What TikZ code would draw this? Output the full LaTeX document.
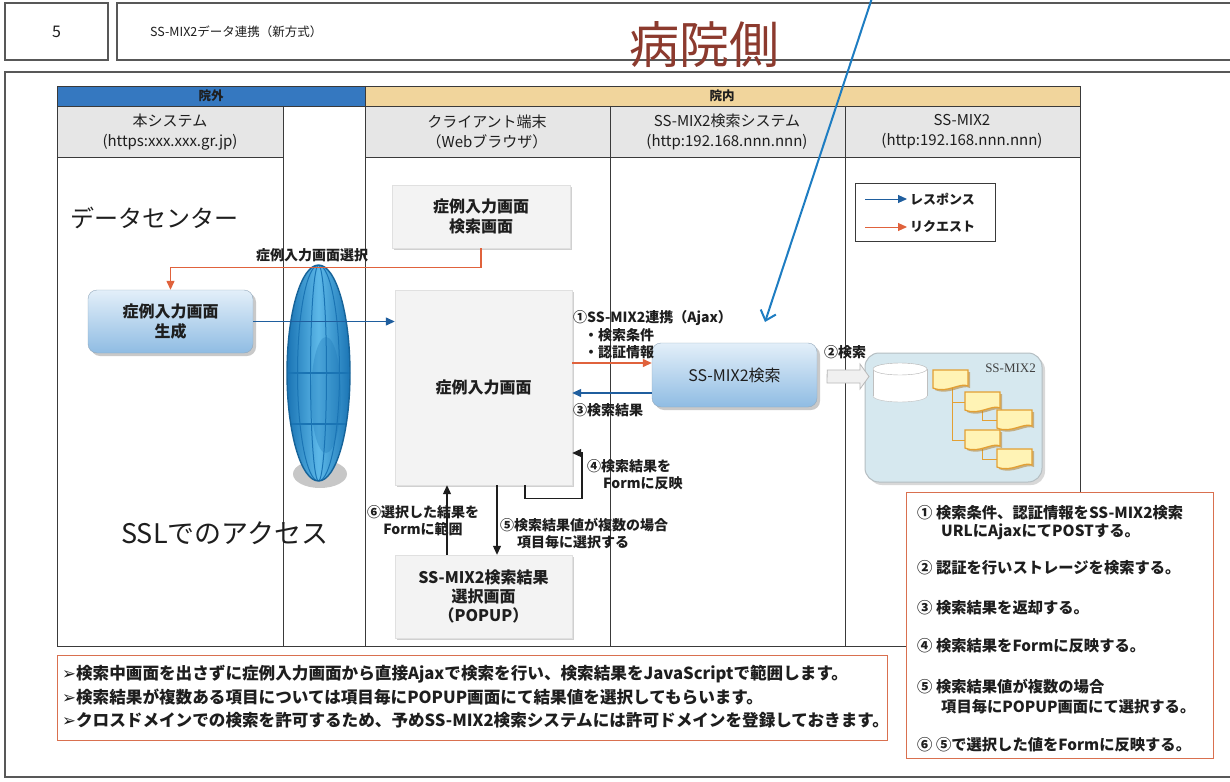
\documentclass[tikz,border=0pt]{standalone}
\usepackage{fontspec}
\setmainfont{Noto Sans CJK JP}
\newfontfamily\symfont{DejaVu Sans}
\newfontfamily\seriffont{Liberation Serif}
\usetikzlibrary{arrows.meta,shadows,calc}

\definecolor{ink}{HTML}{1E1E1E}
\definecolor{gridline}{HTML}{3A3A3A}
\definecolor{outerblue}{HTML}{3578C0}
\definecolor{innertan}{HTML}{F1D59C}
\definecolor{headgray}{HTML}{E6E6E6}
\definecolor{reqred}{HTML}{E0623C}
\definecolor{resblue}{HTML}{1F5E9E}
\definecolor{notered}{HTML}{D9704F}
\definecolor{sidebrown}{HTML}{8C3A2E}
\definecolor{pointer}{HTML}{1E7DC2}
\definecolor{paper}{HTML}{F3F3F3}
\definecolor{boxtop}{HTML}{E3EFF9}
\definecolor{boxbot}{HTML}{8FBCE3}
\definecolor{globedark}{HTML}{1A74B4}
\definecolor{globelight}{HTML}{5DB8E8}
\definecolor{storfill}{HTML}{D6E8EF}
\definecolor{folderfill}{HTML}{FFF3B5}
\definecolor{folderline}{HTML}{E3A033}

\tikzset{
  every node/.style={text=ink, inner sep=0pt},
  frame/.style={draw=gridline!85, line width=1.2pt},
  grid/.style={draw=gridline, line width=0.9pt},
  headtext/.style={font=\fontsize{15}{20}\selectfont, align=center},
  lbl/.style={font=\fontsize{14}{17}\selectfont\bfseries},
  boxtext/.style={font=\fontsize{16}{20}\selectfont\bfseries, align=center},
  notetext/.style={font=\fontsize{15.3}{18}\selectfont\bfseries, anchor=west},
  sumtext/.style={font=\fontsize{16.6}{20}\selectfont\bfseries, anchor=west},
  paperbox/.style={fill=paper, draw=black!12,
    drop shadow={shadow xshift=2pt, shadow yshift=-2pt, fill=black!30, opacity=0.6}},
  bluebox/.style={rounded corners=9pt, top color=boxtop, bottom color=boxbot,
    draw=boxbot!70!black!70,
    drop shadow={shadow xshift=3pt, shadow yshift=-3pt, fill=black!35, opacity=0.6}},
  req/.style={draw=reqred, line width=1.3pt, -{Triangle[length=9pt,width=8pt]}},
  res/.style={draw=resblue, line width=1.3pt, -{Triangle[length=9pt,width=8pt]}},
  blk/.style={draw=ink, line width=1.1pt, -{Triangle[length=9pt,width=8pt]}},
  notebox/.style={draw=notered, line width=1pt, fill=white},
  folder/.style={fill=folderfill, draw=folderline, line width=1.3pt},
}

\begin{document}
\begin{tikzpicture}[x=1pt,y=-1pt]
\useasboundingbox (0,0) rectangle (1230,781);
\fill[white] (0,0) rectangle (1230,781);

% ---- title strip ----
\node[frame, draw, minimum width=103pt, minimum height=57pt] (num) at (56.5,31.5) {};
\node[font=\fontsize{16}{18}\selectfont] at (num) {5};
\draw[frame] (117,3) rectangle (1245,60);
\node[anchor=west, font=\fontsize{12.5}{14}\selectfont] (title) at (150,32) {SS-MIX2データ連携（新方式）};
\node[font=\fontsize{50}{54}\selectfont, text=sidebrown] (side) at (704,45) {病院側};

% ---- outer frame ----
\draw[frame] (5,72) rectangle (1245,777);

% ---- swimlane table ----
\fill[outerblue] (57,86) rectangle (365,106);
\fill[innertan] (365,86) rectangle (1080,106);
\fill[headgray] (57,106) rectangle (283,157);
\fill[headgray] (365,106) rectangle (1080,157);
\draw[grid] (57,86) rectangle (1080,646);
\draw[grid] (57,106) -- (1080,106);
\draw[grid] (57,157) -- (283,157);
\draw[grid] (365,157) -- (1080,157);
\draw[grid] (283,106) -- (283,646);
\draw[grid] (365,86) -- (365,646);
\draw[grid] (610,106) -- (610,646);
\draw[grid] (845,106) -- (845,646);

\node[font=\fontsize{12.5}{14}\selectfont\bfseries] (outlbl) at (211,96) {院外};
\node[font=\fontsize{12.5}{14}\selectfont\bfseries] (inlbl) at (722,96) {院内};

\node[headtext] (h1) at (170,132) {本システム\\(https:xxx.xxx.gr.jp)};
\node[headtext] (h3) at (487,132) {クライアント端末\\（Webブラウザ）};
\node[headtext] (h4) at (727,132) {SS-MIX2検索システム\\(http:192.168.nnn.nnn)};
\node[headtext] (h5) at (962,132) {SS-MIX2\\(http:192.168.nnn.nnn)};

\node[anchor=west, font=\fontsize{24}{28}\selectfont] (dc) at (70,218) {データセンター};
\node[anchor=west, font=\fontsize{27}{30}\selectfont] (ssl) at (121,533) {SSLでのアクセス};

% ---- SSL globe ----
\fill[black!22] (320,474) ellipse [x radius=27pt, y radius=14pt];
\shade[left color=globedark, right color=globedark, middle color=globelight]
  (318.5,373) ellipse [x radius=31.5pt, y radius=108pt];
\begin{scope}
  \clip (318.5,373) ellipse [x radius=31.5pt, y radius=108pt];
  \fill[globedark, opacity=0.3] (326,395) ellipse [x radius=15pt, y radius=58pt];
  \draw[globedark, line width=1pt] (318.5,373) ellipse [x radius=8pt, y radius=108pt];
  \draw[globedark, line width=1pt] (318.5,373) ellipse [x radius=21pt, y radius=108pt];
  \draw[globedark, line width=2.4pt] (280,373) -- (356,373);
  \draw[globedark, line width=2.4pt] (280,424) -- (356,424);
\end{scope}
\draw[globedark!85!black, line width=1.4pt] (318.5,373) ellipse [x radius=31.5pt, y radius=108pt];

% ---- boxes ----
\node[paperbox, minimum width=178pt, minimum height=63pt] (scr) at (481,216.5) {};
\node[boxtext] at (scr) {症例入力画面\\検索画面};
\node[paperbox, minimum width=177pt, minimum height=195pt] (main) at (483.5,387.5) {};
\node[boxtext] at (main) {症例入力画面};
\node[paperbox, minimum width=177pt, minimum height=83pt] (popup) at (483.5,596.5) {};
\node[boxtext, font=\fontsize{16}{19}\selectfont\bfseries] at (popup) {SS-MIX2検索結果\\選択画面\\（POPUP）};
\node[bluebox, minimum width=165pt, minimum height=63pt] (gen) at (170.5,321.5) {};
\node[boxtext] at (gen) {症例入力画面\\生成};
\node[bluebox, minimum width=165pt, minimum height=64pt] (ssq) at (734.5,375) {};
\node[boxtext, font=\fontsize{16}{20}\selectfont] at (ssq) {SS-MIX2検索};

% ---- SS-MIX2 storage ----
\node[rounded corners=14pt, fill=storfill, draw=storfill!70!black!70, line width=1pt,
  minimum width=177pt, minimum height=129pt,
  drop shadow={shadow xshift=3pt, shadow yshift=-3pt, fill=black!25, opacity=0.6}] (stor) at (953.5,417.5) {};
\node[anchor=east, font=\seriffont\fontsize{13}{15}\selectfont, text=black!75] (storlbl) at (1036,368) {SS-MIX2};
% database cylinder
\fill[white] (873,369) rectangle (927,396);
\fill[white, draw=black!25] (900,396) ellipse [x radius=27pt, y radius=6pt];
\fill[white] (873,369) rectangle (927,396);
\draw[black!25] (873,369) -- (873,396) (927,369) -- (927,396);
\fill[white, draw=black!30] (900,369) ellipse [x radius=27pt, y radius=6pt];
% folder tree
\draw[folderline, line width=1pt] (952,388) -- (952,440) -- (965,440) (952,402) -- (965,402);
\draw[folderline, line width=1pt] (982,410) -- (982,420) -- (997,420);
\draw[folderline, line width=1pt] (982,448) -- (982,459) -- (997,459);
\foreach \fx/\fy in {933/370, 965/392, 997/410, 965/430, 997/449}{
  \begin{scope}[shift={(\fx,\fy)}]
    \fill[folderline!80!black, opacity=0.55] (2,2) -- (37,2) -- (37,18) .. controls (29,14) and (16,26) .. (2,20) -- cycle;
    \path[folder] (0,0) -- (35,0) -- (35,16) .. controls (27,12) and (14,24) .. (0,18) -- cycle;
  \end{scope}
}

% ---- legend ----
\node[draw=gridline, line width=1pt, fill=white, minimum width=140pt, minimum height=58pt] (leg) at (925,212) {};
\coordinate (lgA) at (865,199); \coordinate (lgB) at (907,199);
\coordinate (lgC) at (865,227); \coordinate (lgD) at (907,227);
\draw[res, line width=1pt] (lgA) -- (lgB);
\draw[req, line width=1pt] (lgC) -- (lgD);
\node[lbl, anchor=west, font=\fontsize{13}{15}\selectfont\bfseries] (lgres) at (910,199) {レスポンス};
\node[lbl, anchor=west, font=\fontsize{13}{15}\selectfont\bfseries] (lgreq) at (910,227) {リクエスト};

% ---- connectors ----
\draw[req] (scr.south) -- ++(0,19) -| (gen.north);
\node[lbl] (selLbl) at (312,255) {症例入力画面選択};
\draw[res] (gen.east) -- (main.west |- gen.east);

\coordinate (yReq) at (0,363);
\coordinate (yRes) at (0,393);
\draw[req] (main.east |- yReq) -- (ssq.west |- yReq);
\draw[res] (ssq.west |- yRes) -- (main.east |- yRes);
\node[lbl, anchor=west] (l1) at (573,318) {①SS-MIX2連携（Ajax）};
\node[lbl, anchor=west] (l1a) at (584,335) {・検索条件};
\node[lbl, anchor=west] (l1b) at (584,352) {・認証情報};
\node[lbl, anchor=west] (l3) at (573,410) {③検索結果};

\coordinate (xLoop) at (525,0);
\coordinate (loopTop) at (582,453);
\draw[blk] (main.south -| xLoop) -- ++(0,13) -| (loopTop) -- (main.east |- loopTop);
\node[lbl, anchor=west] (l4) at (587,466) {④検索結果を};
\node[lbl, anchor=west] (l4b) at (603,483) {Formに反映};

\coordinate (xDown) at (497,0);
\coordinate (xUp) at (447,0);
\draw[blk] (main.south -| xDown) -- (popup.north -| xDown);
\draw[blk] (popup.north -| xUp) -- (main.south -| xUp);
\node[lbl, align=center] (l6) at (423,521) {⑥選択した結果を\\Formに範囲};
\node[lbl, anchor=west] (l5) at (500,525) {⑤検索結果値が複数の場合};
\node[lbl, anchor=west] (l5b) at (517,542) {項目毎に選択する};

% block arrow to storage
\node[lbl, anchor=west] (l2) at (824,352) {②検索};
\filldraw[fill=black!6, draw=black!28, line width=0.8pt]
  (ssq.east |- 0,370) ++(10,0) -- (860,370) -- (860,364) -- (869,376.5) -- (860,389) -- (860,383) -- (827,383) -- cycle;

% ---- pointer from the hospital-side heading ----
\coordinate (ptrStart) at (872,-2);
\coordinate (ptrEnd) at (765,322);
\draw[pointer, line width=2pt, -{Straight Barb[length=9pt,width=16pt]}] (ptrStart) -- (ptrEnd);

% ---- explanation box ----
\node[notebox, minimum width=307pt, minimum height=266pt] (steps) at (1059.5,625) {};
\node[notetext] at (917,513) {① 検索条件、認証情報をSS-MIX2検索};
\node[notetext] at (941,532) {URLにAjaxにてPOSTする。};
\node[notetext] at (917,568) {② 認証を行いストレージを検索する。};
\node[notetext] at (917,608) {③ 検索結果を返却する。};
\node[notetext] at (917,646) {④ 検索結果をFormに反映する。};
\node[notetext] at (917,687) {⑤ 検索結果値が複数の場合};
\node[notetext] at (941,707) {項目毎にPOPUP画面にて選択する。};
\node[notetext] at (917,745) {⑥ ⑤で選択した値をFormに反映する。};

% ---- summary box ----
\node[notebox, minimum width=830pt, minimum height=85pt] (summary) at (472,697.5) {};
\node[sumtext] at (62,674) {{\symfont ➢}検索中画面を出さずに症例入力画面から直接Ajaxで検索を行い、検索結果をJavaScriptで範囲します。};
\node[sumtext] at (62,697) {{\symfont ➢}検索結果が複数ある項目については項目毎にPOPUP画面にて結果値を選択してもらいます。};
\node[sumtext] at (62,720) {{\symfont ➢}クロスドメインでの検索を許可するため、予めSS-MIX2検索システムには許可ドメインを登録しておきます。};
\end{tikzpicture}
\end{document}
